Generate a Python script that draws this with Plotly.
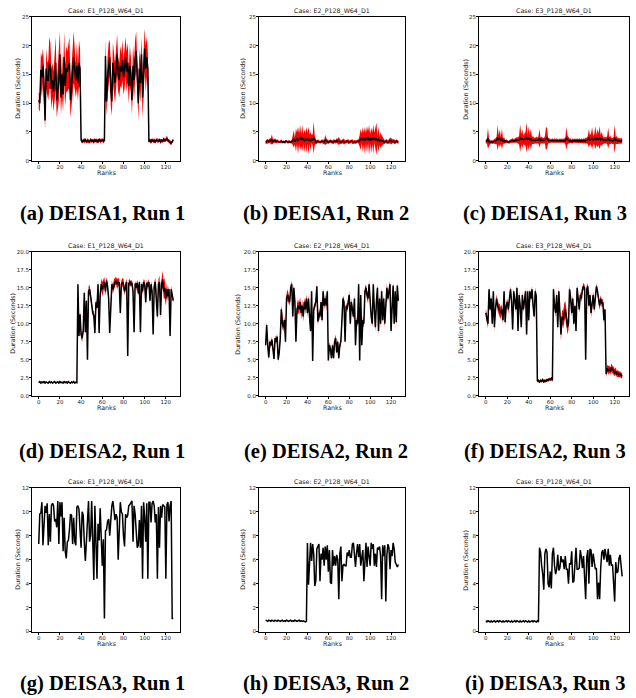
import plotly.graph_objects as go

ranks = list(range(128))

# ---- DEISA1 runs (mean duration per rank and spread of the band) ----
d1_r1_mean = [
    10.5, 10.0, 15.8, 14.5, 16.5, 13.0, 7.0, 16.0, 14.0, 14.0,
    17.0, 16.5, 12.5, 14.0, 12.0, 15.5, 17.0, 10.5, 13.0, 14.0,
    18.5, 11.0, 15.0, 11.5, 18.0, 13.0, 16.0, 15.5, 16.5, 17.0,
    10.5, 13.0, 14.0, 18.0, 16.0, 14.0, 16.5, 13.5, 17.0, 16.0,
    3.6, 3.3, 3.5, 3.4, 3.6, 3.3, 3.5, 3.4, 3.3, 3.6,
    3.4, 3.5, 3.3, 3.6, 3.4, 3.5, 3.3, 3.7, 3.4, 3.5,
    3.6, 3.4, 3.5, 18.2, 10.3, 14.5, 17.0, 18.0, 12.5, 10.3,
    17.0, 15.0, 13.5, 16.0, 18.5, 15.0, 14.0, 16.5, 15.5, 17.5,
    14.5, 16.0, 18.0, 15.5, 17.0, 13.0, 16.5, 15.0, 10.5, 16.5,
    14.0, 17.5, 19.0, 15.0, 10.0, 16.0, 13.5, 18.5, 11.0, 15.0,
    19.5, 16.0, 18.0, 16.0, 3.4, 3.5, 3.3, 3.6, 3.4, 3.5,
    3.3, 3.6, 3.5, 3.4, 3.6, 3.3, 3.5, 3.4, 3.7, 3.5,
    3.6, 3.9, 3.5, 3.4, 3.2, 3.0, 3.4, 3.6,
]
d1_r1_spread = [
    1.5, 1.5, 3.0, 3.5, 3.0, 3.5, 1.5, 3.5, 3.0, 3.5,
    4.5, 4.0, 3.5, 3.0, 3.5, 4.0, 4.5, 3.0, 3.5, 3.5,
    4.0, 3.0, 4.0, 3.0, 4.5, 3.5, 4.0, 3.5, 4.0, 4.5,
    3.0, 3.5, 3.5, 4.5, 3.5, 3.0, 4.0, 3.0, 4.0, 3.5,
    0.4, 0.3, 0.3, 0.4, 0.3, 0.3, 0.4, 0.3, 0.3, 0.4,
    0.3, 0.3, 0.4, 0.3, 0.3, 0.4, 0.3, 0.3, 0.4, 0.3,
    0.3, 0.4, 0.3, 3.0, 2.5, 3.5, 3.5, 3.0, 3.0, 2.5,
    3.5, 3.0, 3.5, 3.5, 3.5, 3.0, 3.0, 3.5, 3.0, 3.5,
    3.0, 3.5, 3.5, 3.5, 3.5, 3.0, 3.5, 3.0, 2.5, 3.5,
    3.5, 3.5, 3.5, 2.5, 3.0, 3.5, 3.5, 3.0, 3.5, 4.0,
    3.5, 4.0, 3.5, 3.0, 0.3, 0.3, 0.4, 0.3, 0.3, 0.4,
    0.3, 0.3, 0.4, 0.3, 0.3, 0.4, 0.3, 0.3, 0.4, 0.3,
    0.3, 0.5, 0.3, 0.3, 0.4, 0.3, 0.3, 0.3,
]
d1_r2_mean = [
    3.2, 3.3, 3.4, 3.3, 3.5, 3.4, 3.7, 3.3, 3.4, 3.5,
    3.3, 3.4, 3.3, 3.2, 3.3, 3.4, 3.2, 3.3, 3.2, 3.3,
    3.4, 3.2, 3.3, 3.3, 3.2, 3.3, 3.5, 3.8, 3.4, 3.6,
    3.9, 3.5, 3.8, 4.0, 3.6, 3.9, 3.7, 3.4, 3.8, 3.6,
    3.9, 3.5, 3.7, 3.4, 3.8, 3.6, 4.0, 3.5, 3.3, 3.2,
    3.4, 3.3, 3.2, 3.3, 3.4, 3.3, 3.2, 3.6, 3.4, 3.3,
    3.2, 3.3, 3.4, 3.3, 3.2, 3.3, 3.4, 3.3, 3.5, 3.3,
    3.4, 3.3, 3.2, 3.3, 3.4, 3.3, 3.2, 3.3, 3.4, 3.3,
    3.2, 3.3, 3.4, 3.3, 3.2, 3.3, 3.2, 3.3, 3.4, 3.3,
    3.5, 3.7, 3.9, 3.6, 3.8, 3.5, 3.9, 3.7, 4.1, 3.6,
    3.8, 3.5, 3.9, 3.7, 4.0, 3.6, 3.8, 3.5, 3.7, 3.4,
    3.6, 3.5, 3.4, 3.3, 3.2, 3.4, 3.3, 3.2, 3.3, 3.5,
    3.4, 3.3, 3.4, 3.3, 3.2, 3.4, 3.3, 3.2,
]
d1_r2_spread = [
    0.3, 0.3, 0.4, 0.3, 0.4, 0.5, 0.9, 0.4, 0.3, 0.4,
    0.3, 0.3, 0.2, 0.2, 0.2, 0.3, 0.2, 0.2, 0.2, 0.3,
    0.2, 0.2, 0.3, 0.2, 0.2, 0.3, 0.8, 1.5, 0.6, 2.0,
    1.0, 2.4, 0.9, 2.2, 1.0, 2.3, 0.8, 2.0, 1.0, 2.2,
    0.9, 2.4, 0.8, 1.6, 0.7, 1.0, 2.8, 0.8, 0.4, 0.3,
    0.3, 0.3, 0.2, 0.3, 0.3, 0.4, 0.3, 0.9, 0.5, 0.3,
    0.3, 0.3, 0.3, 0.3, 0.3, 0.4, 0.3, 0.3, 0.4, 0.5,
    0.7, 0.4, 0.3, 0.3, 0.4, 0.5, 0.3, 0.3, 0.3, 0.4,
    0.3, 0.3, 0.3, 0.4, 0.3, 0.3, 0.3, 0.3, 0.3, 0.4,
    1.0, 1.8, 0.8, 2.2, 1.0, 2.4, 0.9, 2.3, 1.0, 2.6,
    0.8, 2.2, 1.0, 2.5, 0.9, 2.0, 2.8, 0.8, 2.2, 0.7,
    1.4, 0.9, 0.6, 0.4, 0.3, 0.3, 0.4, 0.3, 0.4, 0.5,
    0.6, 0.4, 0.3, 0.4, 0.3, 0.3, 0.3, 0.3,
]
d1_r3_mean = [
    3.3, 3.4, 3.9, 3.3, 3.2, 3.3, 3.2, 3.3, 3.3, 3.4,
    3.5, 4.0, 3.6, 3.9, 3.5, 3.8, 3.4, 3.5, 3.3, 3.4,
    3.3, 3.2, 3.3, 3.4, 3.5, 3.5, 3.4, 3.5, 3.5, 3.6,
    3.5, 3.6, 3.9, 3.7, 3.8, 3.6, 3.7, 3.8, 4.0, 3.6,
    3.9, 3.6, 3.8, 3.5, 3.6, 3.5, 3.5, 3.6, 3.5, 3.6,
    3.9, 3.5, 3.6, 3.5, 3.5, 3.6, 3.8, 3.9, 3.5, 3.5,
    3.5, 3.4, 3.5, 3.4, 3.5, 3.4, 3.5, 3.4, 3.4, 3.5,
    3.4, 3.5, 3.4, 3.5, 3.4, 3.9, 3.6, 3.5, 3.4, 3.5,
    3.3, 3.5, 3.4, 3.5, 3.4, 3.5, 3.4, 3.5, 3.4, 3.5,
    3.4, 3.5, 3.4, 3.5, 3.5, 3.6, 3.9, 3.6, 3.7, 3.9,
    3.6, 3.7, 4.0, 3.6, 3.9, 3.7, 4.0, 3.6, 3.8, 3.6,
    3.5, 3.6, 3.5, 3.6, 3.9, 3.5, 3.6, 3.5, 3.4, 3.5,
    3.8, 3.5, 3.6, 3.4, 3.5, 3.4, 3.5, 3.4,
]
d1_r3_spread = [
    0.3, 0.4, 1.8, 0.6, 0.3, 0.3, 0.3, 0.3, 0.4, 0.5,
    0.6, 2.2, 0.8, 1.5, 0.6, 1.8, 0.5, 0.6, 0.3, 0.3,
    0.3, 0.2, 0.3, 0.3, 0.4, 0.4, 0.3, 0.3, 0.4, 0.5,
    0.5, 0.8, 2.4, 0.9, 1.6, 0.7, 1.0, 1.2, 2.6, 0.9,
    2.1, 0.8, 1.8, 0.6, 0.7, 0.5, 0.5, 0.6, 0.5, 0.6,
    1.6, 0.5, 0.6, 0.5, 0.5, 0.6, 2.0, 1.8, 0.5, 0.4,
    0.4, 0.3, 0.4, 0.3, 0.4, 0.3, 0.4, 0.3, 0.3, 0.4,
    0.3, 0.4, 0.3, 0.4, 0.5, 2.0, 0.8, 0.5, 0.4, 0.4,
    0.3, 0.4, 0.3, 0.4, 0.3, 0.4, 0.3, 0.4, 0.3, 0.4,
    0.3, 0.4, 0.4, 0.5, 0.5, 0.7, 1.6, 0.8, 1.0, 1.9,
    0.7, 0.9, 2.0, 0.8, 1.6, 1.0, 2.0, 0.8, 1.2, 0.7,
    0.5, 0.6, 0.5, 0.7, 1.8, 0.6, 0.7, 0.5, 0.5, 0.6,
    2.5, 0.6, 0.7, 0.5, 0.5, 0.4, 0.5, 0.4,
]

# ---- DEISA2 runs ----
d2_r1_mean = [
    1.8, 1.95, 1.75, 1.9, 1.8, 1.95, 1.75, 1.9, 1.8, 1.75,
    1.95, 1.8, 1.9, 1.75, 1.85, 1.95, 1.75, 1.8, 1.9, 1.75,
    1.95, 1.8, 1.85, 1.75, 1.95, 1.8, 1.9, 1.75, 1.95, 1.8,
    1.75, 1.9, 1.8, 1.95, 1.75, 1.85, 1.8, 15.5, 8.3, 11.3,
    8.5, 8.0, 9.0, 14.3, 8.8, 13.2, 5.0, 14.5, 14.8, 13.8,
    12.5, 11.5, 11.2, 8.7, 13.0, 12.2, 15.5, 8.7, 14.0, 15.5,
    14.8, 15.2, 15.8, 14.5, 16.0, 15.2, 13.5, 8.7, 13.0, 15.5,
    14.8, 15.5, 15.8, 16.0, 15.5, 15.8, 15.7, 11.5, 15.5, 15.8,
    15.5, 14.5, 15.2, 15.8, 5.5, 15.6, 15.8, 15.5, 15.7, 14.5,
    8.8, 15.6, 15.0, 15.7, 14.2, 15.8, 8.8, 15.5, 14.5, 15.8,
    15.5, 13.0, 15.7, 15.2, 15.8, 13.2, 15.5, 14.5, 8.5, 15.2,
    15.8, 14.0, 11.0, 15.5, 15.8, 11.2, 15.5, 16.2, 14.5, 15.0,
    13.5, 14.8, 13.8, 14.8, 8.3, 14.8, 13.8, 13.2,
]
d2_r1_spread = [
    0.1, 0.1, 0.1, 0.1, 0.1, 0.1, 0.1, 0.1, 0.1, 0.1,
    0.1, 0.1, 0.1, 0.1, 0.1, 0.1, 0.1, 0.1, 0.1, 0.1,
    0.1, 0.1, 0.1, 0.1, 0.1, 0.1, 0.1, 0.1, 0.1, 0.1,
    0.1, 0.1, 0.1, 0.1, 0.1, 0.1, 0.1, 0.4, 0.4, 0.5,
    0.6, 0.5, 0.4, 0.5, 0.4, 0.5, 0.3, 0.6, 0.7, 0.5,
    0.4, 0.4, 0.5, 0.3, 0.5, 0.4, 0.7, 0.3, 0.6, 0.8,
    1.0, 0.9, 0.7, 0.6, 0.5, 0.6, 0.4, 0.3, 0.5, 0.5,
    0.6, 0.7, 0.6, 0.5, 0.7, 0.6, 0.5, 0.4, 0.5, 0.6,
    0.7, 0.5, 0.6, 0.5, 0.3, 0.5, 0.4, 0.4, 0.4, 0.5,
    0.3, 0.4, 0.4, 0.5, 0.4, 0.4, 0.3, 0.4, 0.5, 0.4,
    0.5, 0.4, 0.4, 0.5, 0.5, 0.4, 0.5, 0.4, 0.3, 0.5,
    0.6, 0.8, 0.5, 0.7, 0.9, 0.6, 0.8, 1.2, 1.0, 1.5,
    1.0, 0.8, 0.7, 0.5, 0.4, 0.5, 0.4, 0.3,
]
d2_r2_mean = [
    7.0, 9.8, 7.0, 5.3, 7.5, 7.0, 7.8, 6.5, 5.1, 8.0,
    7.5, 8.2, 5.0, 6.0, 8.0, 12.0, 10.0, 9.5, 10.5, 7.5,
    13.5, 14.0, 13.5, 13.0, 15.0, 15.5, 11.0, 15.0, 13.0, 7.5,
    12.0, 12.5, 12.0, 13.0, 11.5, 12.5, 11.0, 13.0, 12.0, 13.5,
    11.5, 13.5, 11.0, 9.0, 14.5, 4.8, 12.0, 12.5, 13.0, 15.2,
    10.3, 11.5, 11.0, 13.0, 10.5, 14.5, 12.5, 13.5, 12.5, 14.5,
    4.9, 7.0, 6.5, 5.2, 7.0, 5.2, 7.5, 8.0, 6.0, 7.5,
    5.2, 7.0, 7.5, 10.5, 13.5, 13.0, 7.5, 12.5, 12.0, 13.0,
    14.0, 10.0, 13.0, 12.0, 11.0, 13.5, 7.0, 10.5, 10.0, 15.5,
    4.9, 14.0, 7.0, 10.5, 10.0, 14.5, 15.0, 14.0, 13.5, 15.5,
    12.5, 11.0, 10.0, 15.5, 12.0, 9.5, 13.0, 15.0, 9.0, 13.5,
    10.0, 14.5, 10.5, 13.5, 10.0, 12.0, 15.0, 13.5, 14.5, 15.5,
    9.0, 12.5, 15.3, 10.0, 14.5, 10.2, 15.3, 13.2,
]
d2_r2_spread = [
    0.8, 0.5, 0.4, 0.3, 0.4, 0.4, 0.4, 0.3, 0.3, 0.4,
    0.4, 0.4, 0.3, 0.4, 0.5, 0.6, 0.7, 0.6, 0.5, 0.4,
    0.7, 0.8, 0.6, 0.5, 0.5, 0.4, 0.4, 0.5, 0.5, 0.3,
    0.8, 0.9, 0.8, 0.7, 0.9, 0.8, 0.7, 0.6, 0.7, 0.6,
    0.6, 0.5, 0.6, 0.4, 0.4, 0.3, 0.4, 0.5, 0.5, 0.4,
    0.5, 0.6, 0.6, 0.5, 0.5, 0.4, 0.5, 0.6, 0.7, 0.4,
    0.3, 0.5, 0.4, 0.3, 0.4, 0.3, 0.4, 0.5, 0.3, 0.4,
    0.3, 0.4, 0.5, 0.5, 0.4, 0.5, 0.3, 0.5, 0.4, 0.5,
    0.5, 0.4, 0.5, 0.5, 0.4, 0.6, 0.3, 0.5, 0.4, 0.4,
    0.3, 0.5, 0.4, 0.5, 0.6, 0.6, 0.5, 0.6, 0.7, 0.5,
    0.5, 0.4, 0.5, 0.4, 0.5, 0.6, 0.7, 0.5, 0.8, 0.6,
    0.7, 0.6, 0.5, 0.5, 0.6, 0.5, 0.6, 0.5, 0.6, 0.5,
    0.5, 0.6, 0.5, 0.5, 0.6, 0.5, 0.4, 0.4,
]
d2_r3_mean = [
    11.5, 10.5, 10.0, 14.8, 12.0, 13.5, 10.0, 14.5, 9.5, 12.0,
    13.5, 12.5, 12.0, 11.8, 11.5, 12.0, 10.5, 14.5, 10.2, 12.5,
    13.0, 12.0, 13.5, 14.8, 13.0, 9.2, 14.5, 13.0, 12.0, 15.0,
    9.0, 14.0, 12.5, 9.5, 14.0, 12.0, 13.0, 14.5, 8.5, 14.5,
    10.5, 14.5, 13.5, 14.8, 12.5, 11.0, 14.5, 13.8, 2.0, 2.1,
    1.9, 2.1, 2.0, 2.2, 1.9, 2.1, 2.0, 2.2, 2.1, 2.3,
    2.2, 2.4, 2.1, 14.8, 12.5, 11.5, 14.0, 9.5, 14.5, 12.0,
    8.5, 11.0, 10.5, 11.5, 12.0, 11.0, 9.5, 10.0, 14.8, 13.5,
    11.5, 13.5, 10.0, 12.5, 9.0, 15.0, 13.0, 12.0, 14.0, 13.5,
    14.8, 15.2, 15.0, 5.0, 14.8, 15.2, 12.5, 14.0, 11.5, 13.0,
    14.0, 12.0, 13.5, 15.2, 14.5, 13.0, 12.5, 13.5, 12.8, 13.0,
    10.5, 12.0, 3.0, 3.8, 3.5, 3.7, 3.4, 3.9, 3.6, 3.5,
    3.2, 3.4, 3.0, 3.1, 2.9, 3.0, 2.8, 2.7,
]
d2_r3_spread = [
    0.6, 0.5, 0.6, 0.4, 0.4, 0.5, 0.4, 0.4, 0.5, 0.5,
    0.6, 0.7, 0.8, 0.9, 0.8, 0.7, 0.6, 0.4, 0.5, 0.5,
    0.5, 0.6, 0.5, 0.4, 0.5, 0.4, 0.4, 0.5, 0.5, 0.4,
    0.4, 0.5, 0.5, 0.4, 0.5, 0.4, 0.5, 0.4, 0.4, 0.5,
    0.5, 0.4, 0.5, 0.4, 0.5, 0.4, 0.5, 0.4, 0.2, 0.2,
    0.2, 0.2, 0.2, 0.2, 0.2, 0.2, 0.2, 0.2, 0.2, 0.2,
    0.2, 0.2, 0.2, 0.4, 0.5, 0.6, 0.5, 0.6, 0.6, 0.7,
    0.9, 1.0, 1.2, 1.3, 1.2, 1.1, 1.0, 0.8, 0.5, 0.5,
    0.6, 0.5, 0.5, 0.5, 0.4, 0.4, 0.5, 0.5, 0.4, 0.5,
    0.4, 0.5, 0.4, 0.3, 0.5, 0.4, 0.5, 0.6, 0.7, 0.6,
    0.5, 0.5, 0.6, 0.4, 0.5, 0.5, 0.6, 0.5, 0.5, 0.5,
    0.5, 0.4, 0.4, 0.5, 0.6, 0.5, 0.5, 0.6, 0.5, 0.5,
    0.5, 0.5, 0.4, 0.5, 0.4, 0.4, 0.4, 0.3,
]

# ---- DEISA3 runs (no visible spread) ----
d3_r1_mean = [
    7.3, 9.8, 9.9, 10.8, 7.2, 8.5, 10.5, 9.9, 10.7, 7.2,
    9.8, 7.5, 10.5, 10.7, 10.5, 9.2, 9.4, 8.7, 10.9, 7.3,
    10.8, 9.6, 10.8, 6.7, 9.5, 6.7, 6.1, 7.5, 7.6, 8.5,
    9.8, 9.7, 7.3, 9.5, 7.5, 7.2, 10.4, 10.5, 10.2, 8.5,
    7.0, 10.0, 9.7, 7.5, 5.9, 7.5, 9.8, 10.9, 7.5, 8.0,
    10.9, 7.8, 4.3, 10.5, 7.7, 4.4, 9.0, 7.6, 10.3, 8.2,
    5.5, 7.7, 1.1, 8.4, 8.5, 9.2, 9.4, 8.0, 9.5, 10.5,
    10.9, 10.3, 9.3, 9.8, 9.5, 6.0, 8.0, 10.8, 10.0, 9.8,
    8.0, 7.1, 9.8, 9.5, 9.7, 10.5, 10.6, 10.8, 10.9, 7.5,
    10.5, 9.8, 8.5, 7.0, 7.2, 9.3, 7.0, 10.5, 4.4, 10.8,
    9.5, 7.5, 10.7, 4.4, 10.8, 10.8, 9.1, 10.7, 10.9, 10.5,
    9.1, 9.8, 4.4, 10.4, 7.0, 10.5, 9.5, 10.6, 10.5, 10.4,
    4.4, 10.6, 10.8, 9.2, 10.5, 10.9, 1.1, 1.1,
]
d3_r2_mean = [
    0.95, 0.9, 0.85, 0.95, 0.9, 0.85, 0.95, 0.9, 0.85, 0.95,
    0.9, 0.85, 0.95, 0.9, 0.85, 0.9, 0.95, 0.85, 0.9, 0.85,
    0.95, 0.9, 0.85, 0.9, 0.95, 0.85, 0.9, 0.85, 0.95, 0.9,
    0.85, 0.9, 0.95, 0.85, 0.9, 0.85, 0.9, 0.85, 0.8, 0.85,
    7.4, 3.9, 5.5, 7.4, 5.9, 7.3, 6.5, 3.8, 4.2, 6.9,
    7.1, 7.3, 4.2, 6.5, 6.0, 7.0, 5.5, 7.1, 6.0, 7.2,
    5.0, 6.8, 4.1, 4.0, 6.8, 5.5, 6.3, 5.5, 6.4, 6.0,
    2.7, 6.5, 7.1, 4.2, 5.5, 5.6, 5.5, 5.5, 6.6, 6.3,
    6.8, 6.2, 6.2, 7.3, 7.4, 6.0, 5.4, 6.6, 7.3, 6.2,
    7.3, 5.5, 6.5, 6.8, 4.2, 6.0, 7.4, 5.4, 7.1, 6.3,
    5.5, 7.4, 6.9, 7.3, 5.5, 6.5, 5.4, 7.0, 6.9, 7.1,
    6.3, 2.7, 7.2, 6.3, 7.2, 2.5, 6.4, 7.3, 7.0, 5.2,
    6.8, 6.3, 7.4, 6.9, 5.8, 5.6, 5.4, 5.6,
]
d3_r3_mean = [
    0.9, 0.8, 0.9, 0.85, 0.8, 0.9, 0.8, 0.85, 0.9, 0.8,
    0.85, 0.9, 0.8, 0.9, 0.85, 0.8, 0.9, 0.8, 0.85, 0.9,
    0.8, 0.9, 0.85, 0.8, 0.9, 0.8, 0.85, 0.9, 0.8, 0.9,
    0.85, 0.8, 0.9, 0.8, 0.85, 0.9, 0.8, 0.9, 0.85, 0.8,
    0.9, 0.8, 0.85, 0.9, 0.8, 0.9, 0.85, 0.8, 0.9, 0.8,
    7.0, 6.6, 5.5, 4.8, 3.5, 6.5, 6.9, 6.6, 4.0, 3.7,
    5.0, 3.6, 6.5, 7.0, 5.5, 4.8, 5.2, 6.4, 5.1, 5.3,
    6.3, 5.8, 6.0, 5.2, 6.3, 5.2, 5.2, 4.0, 5.7, 5.6,
    6.7, 4.1, 4.2, 6.2, 7.0, 5.2, 5.2, 5.3, 6.8, 6.2,
    5.3, 6.3, 4.8, 2.7, 6.2, 6.8, 4.0, 6.9, 6.8, 5.4,
    6.5, 6.0, 5.2, 5.3, 2.7, 4.1, 2.7, 5.3, 6.6, 6.8,
    6.0, 6.9, 6.3, 5.8, 6.9, 5.5, 6.4, 5.5, 5.6, 3.8,
    2.5, 5.8, 4.9, 5.0, 6.1, 6.4, 5.5, 4.6,
]

case_titles = ["Case: E1_P128_W64_D1", "Case: E2_P128_W64_D1", "Case: E3_P128_W64_D1"]
captions = [
    "(a) DEISA1, Run 1", "(b) DEISA1, Run 2", "(c) DEISA1, Run 3",
    "(d) DEISA2, Run 1", "(e) DEISA2, Run 2", "(f) DEISA2, Run 3",
    "(g) DEISA3, Run 1", "(h) DEISA3, Run 2", "(i) DEISA3, Run 3",
]
x_label = "Ranks"
y_label = "Duration (Seconds)"
x_ticks = [0, 20, 40, 60, 80, 100, 120]
row_y_ticks = [
    [0, 5, 10, 15, 20, 25],
    [0.0, 2.5, 5.0, 7.5, 10.0, 12.5, 15.0, 17.5, 20.0],
    [0, 2, 4, 6, 8, 10, 12],
]
row_y_max = [25, 20, 12]
row_tickformat = ["d", ".1f", "d"]

panels = [
    (d1_r1_mean, d1_r1_spread), (d1_r2_mean, d1_r2_spread), (d1_r3_mean, d1_r3_spread),
    (d2_r1_mean, d2_r1_spread), (d2_r2_mean, d2_r2_spread), (d2_r3_mean, d2_r3_spread),
    (d3_r1_mean, None), (d3_r2_mean, None), (d3_r3_mean, None),
]

# page geometry (pixels)
W, H = 636, 698
col_px = [(32, 180), (259, 405), (479, 629)]
row_px = [(14, 159), (251, 396), (489, 634)]
ylabel_x_px = [[18, 243, 466], [13, 238, 461], [18, 243, 466]]
xlabel_y_px = [171, 408, 646]
caption_y_px = [212, 452, 686]
caption_x_px = [102, 326, 545]

TICK_FONT = dict(family="DejaVu Sans", size=5.5, color="#222222")
LABEL_FONT = dict(family="DejaVu Sans", size=6.3, color="#222222")

fig = go.Figure()
annotations = []
layout_axes = {}

for i, (mean, spread) in enumerate(panels):
    r, c = divmod(i, 3)
    n = i + 1
    xa = "x" if n == 1 else f"x{n}"
    ya = "y" if n == 1 else f"y{n}"

    if spread is not None:
        upper = [m + s for m, s in zip(mean, spread)]
        lower = [m - s for m, s in zip(mean, spread)]
        fig.add_trace(go.Scatter(x=ranks, y=upper, mode="lines", line=dict(width=0, color="red"),
                                 xaxis=xa, yaxis=ya, showlegend=False, hoverinfo="skip"))
        fig.add_trace(go.Scatter(x=ranks, y=lower, mode="lines", line=dict(width=0, color="red"),
                                 fill="tonexty", fillcolor="rgb(255,0,0)",
                                 xaxis=xa, yaxis=ya, showlegend=False, hoverinfo="skip"))
    fig.add_trace(go.Scatter(x=ranks, y=mean, mode="lines", line=dict(width=1.5, color="black"),
                             xaxis=xa, yaxis=ya, showlegend=False))

    x0, x1 = col_px[c]
    top, bot = row_px[r]
    xdom = [x0 / W, x1 / W]
    ydom = [1 - bot / H, 1 - top / H]
    axis_common = dict(showline=True, linecolor="black", linewidth=1, mirror=True,
                       ticks="outside", ticklen=2, tickwidth=0.8, tickcolor="black",
                       ticklabelstandoff=-1,
                       showgrid=False, zeroline=False, tickfont=TICK_FONT)
    layout_axes["xaxis" if n == 1 else f"xaxis{n}"] = dict(
        axis_common, domain=xdom, anchor=ya, range=[-6.35, 133.35], tickvals=x_ticks)
    layout_axes["yaxis" if n == 1 else f"yaxis{n}"] = dict(
        axis_common, domain=ydom, anchor=xa, range=[0, row_y_max[r]],
        tickvals=row_y_ticks[r], tickformat=row_tickformat[r])

    annotations.append(dict(text=case_titles[c], x=(x0 + x1) / 2 / W, y=1 - top / H,
                            xref="paper", yref="paper", xanchor="center", yanchor="bottom",
                            showarrow=False, font=LABEL_FONT))
    annotations.append(dict(text=x_label, x=(x0 + x1) / 2 / W, y=1 - xlabel_y_px[r] / H,
                            xref="paper", yref="paper", xanchor="center", yanchor="middle",
                            showarrow=False, font=LABEL_FONT))
    annotations.append(dict(text=y_label, x=ylabel_x_px[r][c] / W, y=1 - (top + bot) / 2 / H,
                            xref="paper", yref="paper", xanchor="center", yanchor="middle",
                            textangle=-90, showarrow=False, font=LABEL_FONT))
    annotations.append(dict(text=f"<b>{captions[i]}</b>", x=caption_x_px[c] / W,
                            y=1 - caption_y_px[r] / H, xref="paper", yref="paper",
                            xanchor="center", yanchor="middle", showarrow=False,
                            font=dict(family="Liberation Serif", size=20.5, color="black")))

fig.update_layout(width=W, height=H, autosize=False, margin=dict(l=0, r=0, t=0, b=0),
                  paper_bgcolor="white", plot_bgcolor="white",
                  annotations=annotations, **layout_axes)

fig.write_html("out.html")
